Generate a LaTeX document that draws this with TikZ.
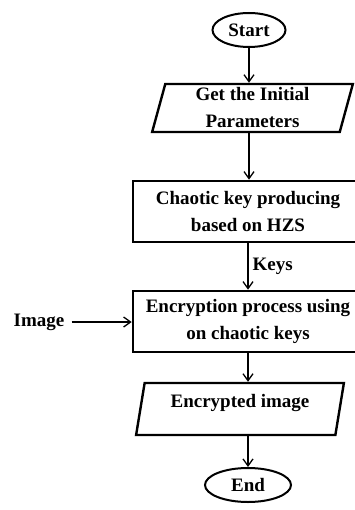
\documentclass[tikz,border=0pt]{standalone}
\usepackage{fontspec}
\setmainfont{Liberation Serif}
\usetikzlibrary{shapes.geometric,arrows.meta}

\begin{document}
\begin{tikzpicture}[x=1pt, y=1pt,
  font = \fontsize{19}{27}\selectfont\bfseries,
  every node/.style = {align=center, inner sep=0pt},
  term/.style = {draw, ellipse, line width=2pt, minimum height=34pt},
  io/.style = {draw, trapezium, trapezium left angle=78, trapezium right angle=102,
               trapezium stretches=true, line width=2.4pt},
  proc/.style = {draw, rectangle, line width=2.6pt, minimum width=230pt, minimum height=61pt},
  flow/.style = {line width=1.3pt, -{Straight Barb[length=7pt,width=10pt,line width=1.3pt]}},
  ]
  \clip (0,0) rectangle (355,-510);
  \node[term, minimum width=73pt] (start) at (249,-30) {Start};
  \node[io, minimum width=201pt, minimum height=48pt] (param) at (252.5,-108)
       {Get the Initial\\Parameters};
  \node[proc] (keygen) at (248,-211.5) {Chaotic key producing\\based on HZS};
  \node[proc] (encrypt) at (248,-321.5) {Encryption process using\\on chaotic keys};
  \node[io, minimum width=208pt, minimum height=52pt, text depth=16pt] (cipher) at (240,-409)
       {Encrypted image};
  \node[term, minimum width=86pt] (stop) at (248,-485) {End};
  \node (img) at (39,-322) {Image};

  \draw[flow] (start.south) -- (start.south |- param.north);
  \draw[flow] (param.south -| start.south) -- (start.south |- keygen.north);
  \draw[flow] (keygen) -- node[right=4pt] (keys) {Keys} (encrypt);
  \draw[flow] (encrypt.south) -- (encrypt.south |- cipher.north);
  \draw[flow] (cipher.south -| encrypt.south) -- (stop);
  \draw[flow] ([xshift=7pt]img.east) -- (img -| encrypt.west);
\end{tikzpicture}
\end{document}
